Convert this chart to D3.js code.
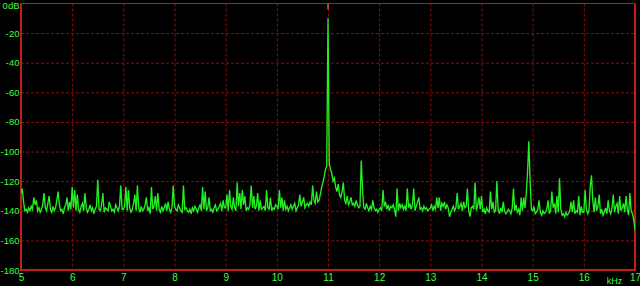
<!DOCTYPE html>
<html>
<head>
<meta charset="utf-8">
<script src="https://cdn.jsdelivr.net/npm/d3@7/dist/d3.min.js"></script>
<style>
  html, body { margin: 0; padding: 0; background: #000; }
  svg { display: block; }
  .tick text { font-family: "Liberation Sans", Arial, sans-serif; font-size: 10px; fill: #3cff3c; }
  .yaxis .tick text { font-size: 9.5px; }
</style>
</head>
<body>
<div id="container"></div>
<script>
// spectrum sampled every 0.025 kHz from 5 to 17 kHz (dB), one row per kHz
const freqStart = 5;
const freqStep = 0.025;
const levelsDb = [
  // 5 kHz
  -128,-125,-134,-140,-139,-141,-138,-140,-137,-139,-131,-136,-133,-140,-138,-141,-139,-136,-128,-138,
  -140,-135,-130,-139,-141,-137,-140,-138,-133,-127,-136,-140,-139,-142,-138,-136,-131,-140,-134,-139,
  // 6 kHz
  -124,-138,-126,-140,-129,-139,-141,-137,-135,-140,-128,-138,-141,-139,-136,-140,-138,-142,-139,-137,
  -119,-139,-140,-136,-128,-141,-138,-139,-140,-134,-137,-140,-139,-141,-136,-138,-140,-137,-123,-139,
  // 7 kHz
  -139,-137,-124,-140,-126,-138,-141,-139,-135,-129,-140,-123,-138,-141,-137,-140,-139,-136,-131,-140,
  -138,-142,-124,-139,-137,-130,-140,-128,-139,-141,-137,-140,-138,-135,-140,-134,-139,-141,-138,-123,
  // 8 kHz
  -137,-139,-140,-136,-138,-140,-141,-123,-139,-138,-140,-141,-139,-142,-138,-140,-137,-139,-141,-138,
  -136,-140,-124,-139,-127,-140,-138,-131,-140,-139,-141,-138,-136,-140,-139,-137,-135,-140,-133,-138,
  // 9 kHz
  -138,-129,-140,-126,-137,-139,-131,-138,-140,-121,-137,-128,-139,-126,-136,-130,-140,-138,-139,-136,
  -123,-138,-130,-139,-137,-128,-140,-133,-139,-138,-137,-140,-126,-138,-139,-131,-140,-138,-139,-136,
  // 10 kHz
  -137,-139,-126,-138,-131,-140,-133,-139,-137,-140,-138,-136,-139,-137,-135,-140,-138,-136,-129,-137,
  -134,-131,-138,-136,-135,-137,-134,-136,-123,-133,-135,-127,-134,-133,-129,-124,-121,-117,-112,-110,
  // 11 kHz
  -10,-108,-112,-115,-120,-118,-124,-127,-122,-129,-131,-127,-121,-133,-135,-130,-136,-134,-131,-136,
  -135,-137,-133,-136,-138,-137,-106,-126,-138,-139,-135,-138,-140,-137,-139,-133,-138,-140,-139,-141,
  // 12 kHz
  -139,-138,-140,-126,-137,-134,-139,-136,-140,-137,-138,-136,-139,-144,-125,-140,-135,-138,-136,-139,
  -137,-140,-125,-138,-135,-139,-136,-125,-140,-137,-134,-131,-139,-138,-140,-137,-139,-138,-140,-139,
  // 13 kHz
  -138,-136,-140,-137,-139,-131,-138,-131,-140,-135,-137,-134,-139,-136,-138,-144,-141,-139,-137,-140,
  -138,-128,-139,-137,-135,-140,-134,-138,-137,-125,-140,-144,-138,-137,-139,-121,-140,-136,-131,-139,
  // 14 kHz
  -130,-141,-139,-142,-138,-140,-141,-127,-139,-134,-141,-140,-120,-139,-142,-138,-141,-134,-140,-142,
  -141,-139,-140,-142,-138,-125,-140,-136,-141,-139,-143,-131,-140,-131,-138,-128,-114,-93,-120,-139,
  // 15 kHz
  -140,-137,-142,-141,-139,-133,-141,-143,-140,-142,-141,-139,-133,-142,-140,-127,-138,-135,-142,-130,
  -141,-118,-139,-143,-142,-144,-141,-143,-142,-140,-134,-141,-133,-142,-140,-141,-130,-143,-137,-141,
  // 16 kHz
  -141,-126,-139,-142,-140,-124,-116,-133,-141,-131,-140,-137,-129,-142,-139,-143,-141,-138,-142,-133,
  -140,-142,-138,-129,-141,-137,-135,-142,-130,-140,-138,-135,-141,-130,-139,-143,-128,-140,-142,-146,
  // 17 kHz
  -153
];
const peakFreq = 11;

const xTicks = [5, 6, 7, 8, 9, 10, 11, 12, 13, 14, 15, 16, 17];
const yTicks = [0, -20, -40, -60, -80, -100, -120, -140, -160, -180];
const xUnit = "kHz";

const main = () => {
    const w = 640;
    const h = 286;
    const margin = {left: 21, right: 5, top: 3.5, bottom: 16};

    const svg = d3.select('#container').append('svg')
        .attr('width', w)
        .attr('height', h)
        .style('background', '#000');

    const xScale = d3.scaleLinear().domain([5, 17]).range([margin.left, w - margin.right]);
    const yScale = d3.scaleLinear().domain([0, -180]).range([margin.top, h - margin.bottom]);

    const spectrum = levelsDb.map((db, i) => ({freq: freqStart + i * freqStep, db: db}));

    // dashed grid
    svg.append('g')
        .attr('transform', 'translate(0,' + margin.top + ')')
        .call(d3.axisBottom(xScale).tickValues(xTicks.slice(1, -1)).tickSize(yScale(-180) - margin.top).tickFormat(''))
        .call(g => g.select('.domain').remove())
        .selectAll('line')
        .attr('stroke', '#900c0c')
        .attr('stroke-dasharray', '3,2');

    svg.append('g')
        .attr('transform', 'translate(' + margin.left + ',0)')
        .call(d3.axisRight(yScale).tickValues(yTicks.slice(1, -1)).tickSize(xScale(17) - margin.left).tickFormat(''))
        .call(g => g.select('.domain').remove())
        .selectAll('line')
        .attr('stroke', '#900c0c')
        .attr('stroke-dasharray', '3,2');

    // frame
    svg.append('line')
        .attr('x1', margin.left).attr('x2', xScale(17))
        .attr('y1', yScale(0)).attr('y2', yScale(0))
        .attr('stroke', '#c41c1c').attr('stroke-width', 1.2);
    svg.append('path')
        .attr('d', 'M' + margin.left + ',' + yScale(0) + 'V' + yScale(-180) + 'H' + xScale(17) + 'V' + yScale(0))
        .attr('fill', 'none')
        .attr('stroke', '#c41c1c')
        .attr('stroke-width', 2);

    // axes labels
    svg.append('g')
        .attr('class', 'yaxis')
        .attr('transform', 'translate(' + (margin.left - 1.5) + ',0)')
        .call(d3.axisLeft(yScale).tickValues(yTicks).tickSize(0).tickPadding(0)
            .tickFormat(d => d === 0 ? '0dB' : d))
        .call(g => g.select('.domain').remove())
        .selectAll('.tick')
        .filter(d => d === 0)
        .select('text')
        .attr('dy', '0.55em');

    svg.append('g')
        .attr('transform', 'translate(0,' + (yScale(-180) + 2) + ')')
        .call(d3.axisBottom(xScale).tickValues(xTicks).tickSize(0).tickPadding(2))
        .call(g => g.select('.domain').remove());

    svg.append('text')
        .attr('x', xScale(16.6))
        .attr('y', yScale(-180) + 14)
        .attr('text-anchor', 'middle')
        .style('font-family', '"Liberation Sans", Arial, sans-serif')
        .style('font-size', '9px')
        .style('fill', '#3cff3c')
        .text(xUnit);

    // spectrum trace
    svg.append('clipPath').attr('id', 'plot')
        .append('rect')
        .attr('x', margin.left).attr('y', yScale(0))
        .attr('width', xScale(17) - margin.left)
        .attr('height', yScale(-180) - yScale(0));

    const lineMaker = d3.line()
        .x(d => xScale(d.freq))
        .y(d => yScale(d.db));

    svg.append('path')
        .datum(spectrum)
        .attr('clip-path', 'url(#plot)')
        .attr('d', lineMaker)
        .attr('fill', 'none')
        .attr('stroke', '#22f022')
        .attr('stroke-width', 1.35)
        .attr('stroke-linejoin', 'miter');

    // peak marker
    svg.append('line')
        .attr('x1', xScale(peakFreq)).attr('x2', xScale(peakFreq))
        .attr('y1', yScale(0)).attr('y2', yScale(0) + 6)
        .attr('stroke', '#e05050')
        .attr('stroke-width', 1.5);
};
main();
</script>
</body>
</html>
